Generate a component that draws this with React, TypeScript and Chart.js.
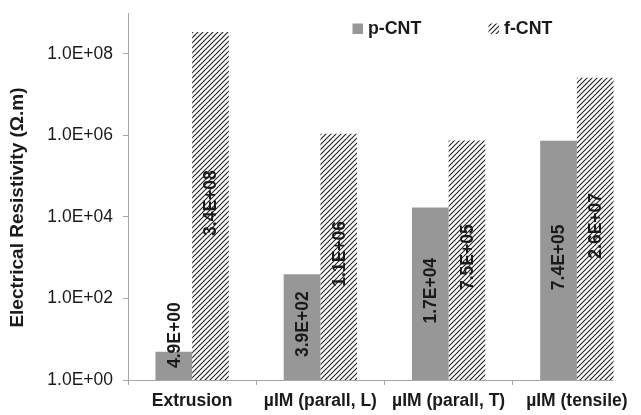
import React, { useEffect, useRef } from 'react';
import { Chart, registerables } from 'chart.js';
Chart.register(...registerables);

const categories = ['Extrusion', 'µIM (parall, L)', 'µIM (parall, T)', 'µIM (tensile)'];
const seriesNames = ['p-CNT', 'f-CNT'];
const pCnt = [4.9, 3.9e2, 1.7e4, 7.4e5];
const fCnt = [3.4e8, 1.1e6, 7.5e5, 2.6e7];
const yTicks = [1, 1e2, 1e4, 1e6, 1e8];
const yMin = 1;
const yMax = 1e9;
const yTitle = 'Electrical Resistivity (Ω.m)';

const FONT = '"Liberation Sans", Arial, sans-serif';
const AXIS = '#a6a6a6';
const TEXT = '#1a1a1a';
const GRAY = '#979797';

function fmtSci(v: number): string {
  const [m, e] = v.toExponential(1).split('e');
  const sign = e[0] === '-' ? '-' : '+';
  const d = e.replace(/^[+-]/, '').padStart(2, '0');
  return `${m}E${sign}${d}`;
}

function makeHatch(): CanvasPattern | string {
  const s = 5;
  const c = document.createElement('canvas');
  c.width = s;
  c.height = s;
  const g = c.getContext('2d');
  if (!g) return '#ccc';
  g.fillStyle = '#ffffff';
  g.fillRect(0, 0, s, s);
  g.strokeStyle = '#222222';
  g.lineWidth = 1.1;
  g.beginPath();
  g.moveTo(0, s);
  g.lineTo(s, 0);
  g.moveTo(-1, 1);
  g.lineTo(1, -1);
  g.moveTo(s - 1, s + 1);
  g.lineTo(s + 1, s - 1);
  g.stroke();
  return g.createPattern(c, 'repeat') || '#ccc';
}

export default function App() {
  const ref = useRef<HTMLCanvasElement | null>(null);
  useEffect(() => {
    if (!ref.current) return;
    const hatch = makeHatch();
    const fills = [GRAY, hatch];

    const labelPlugin = {
      id: 'barLabels',
      afterDatasetsDraw(chart: any) {
        const ctx = chart.ctx;
        ctx.save();
        ctx.font = `bold 17.5px ${FONT}`;
        ctx.fillStyle = TEXT;
        ctx.textAlign = 'center';
        ctx.textBaseline = 'middle';
        chart.data.datasets.forEach((ds: any, i: number) => {
          const meta = chart.getDatasetMeta(i);
          meta.data.forEach((bar: any, j: number) => {
            const { x, y, base } = bar.getProps(['x', 'y', 'base'], true);
            const text = fmtSci(ds.data[j]);
            const w = ctx.measureText(text).width;
            let cy = (y + base) / 2 - 3;
            if (cy + w / 2 > base - 12) cy = base - 12 - w / 2;
            ctx.save();
            ctx.translate(x + 1, cy);
            ctx.rotate(-Math.PI / 2);
            ctx.fillText(text, 0, 0);
            ctx.restore();
          });
        });
        ctx.restore();
      },
    };

    const decorPlugin = {
      id: 'decor',
      afterDraw(chart: any) {
        const ctx = chart.ctx;
        const area = chart.chartArea;
        // x-axis line, ending at the last bar
        const lastMeta = chart.getDatasetMeta(chart.data.datasets.length - 1);
        const lastBar = lastMeta.data[lastMeta.data.length - 1];
        const { x: lx, width: lw } = lastBar.getProps(['x', 'width'], true);
        ctx.save();
        ctx.strokeStyle = AXIS;
        ctx.lineWidth = 1;
        ctx.beginPath();
        ctx.moveTo(area.left, Math.round(area.bottom) + 0.5);
        ctx.lineTo(lx + lw / 2, Math.round(area.bottom) + 0.5);
        ctx.stroke();
        ctx.restore();
        // y-axis title
        ctx.save();
        ctx.font = `bold 19px ${FONT}`;
        ctx.fillStyle = TEXT;
        ctx.textAlign = 'center';
        ctx.textBaseline = 'middle';
        ctx.translate(17.5, 207.5);
        ctx.rotate(-Math.PI / 2);
        ctx.fillText(yTitle, 0, 0);
        ctx.restore();
        // legend
        ctx.save();
        const xs = [352.5, 488.5];
        const yc = 29;
        ctx.font = `bold 17.8px ${FONT}`;
        ctx.textAlign = 'left';
        ctx.textBaseline = 'middle';
        chart.data.datasets.forEach((ds: any, i: number) => {
          ctx.fillStyle = fills[i];
          ctx.fillRect(xs[i], yc - 5.5, 10.5, 10.5);
          ctx.fillStyle = TEXT;
          ctx.fillText(ds.label, xs[i] + 15.5, yc);
        });
        ctx.restore();
      },
    };

    const chart = new Chart(ref.current, {
      type: 'bar',
      data: {
        labels: categories,
        datasets: [
          { label: seriesNames[0], data: pCnt, backgroundColor: GRAY, borderWidth: 0 },
          { label: seriesNames[1], data: fCnt, backgroundColor: hatch as any, borderWidth: 0 },
        ],
      },
      options: {
        responsive: false,
        animation: false,
        devicePixelRatio: 1,
        layout: { padding: { top: 13, left: 0, right: 0, bottom: 0 } },
        datasets: { bar: { categoryPercentage: 0.572, barPercentage: 1 } },
        plugins: { legend: { display: false }, tooltip: { enabled: false } },
        scales: {
          x: {
            grid: {
              display: true,
              drawOnChartArea: false,
              drawTicks: true,
              tickLength: 5,
              color: (c: any) => (c.index >= categories.length ? 'rgba(0,0,0,0)' : AXIS),
              offset: true,
            },
            border: { display: false },
            ticks: { font: { family: FONT, size: 17.5, weight: 'bold' }, color: TEXT, padding: 6, maxRotation: 0, autoSkip: false },
            afterFit: (s: any) => {
              s.height = 35;
              s.paddingLeft = 0;
              s.paddingRight = 0;
            },
          },
          y: {
            type: 'logarithmic',
            min: yMin,
            max: yMax,
            afterBuildTicks: (s: any) => { s.ticks = yTicks.map((v) => ({ value: v })); },
            ticks: { callback: (v: any) => fmtSci(Number(v)), font: { family: FONT, size: 17.5 }, color: TEXT, padding: 10 },
            grid: { drawOnChartArea: false, drawTicks: true, tickLength: 5, color: AXIS },
            border: { display: true, color: AXIS },
            afterFit: (s: any) => {
              s.width = 128;
              s.paddingTop = 0;
              s.paddingBottom = 0;
            },
          },
        },
      } as any,
      plugins: [labelPlugin, decorPlugin],
    });
    return () => chart.destroy();
  }, []);

  return (
    <div style={{ position: 'absolute', left: 0, top: 0, width: 641, height: 415, background: '#fff' }}>
      <canvas ref={ref} width={641} height={415} />
    </div>
  );
}
